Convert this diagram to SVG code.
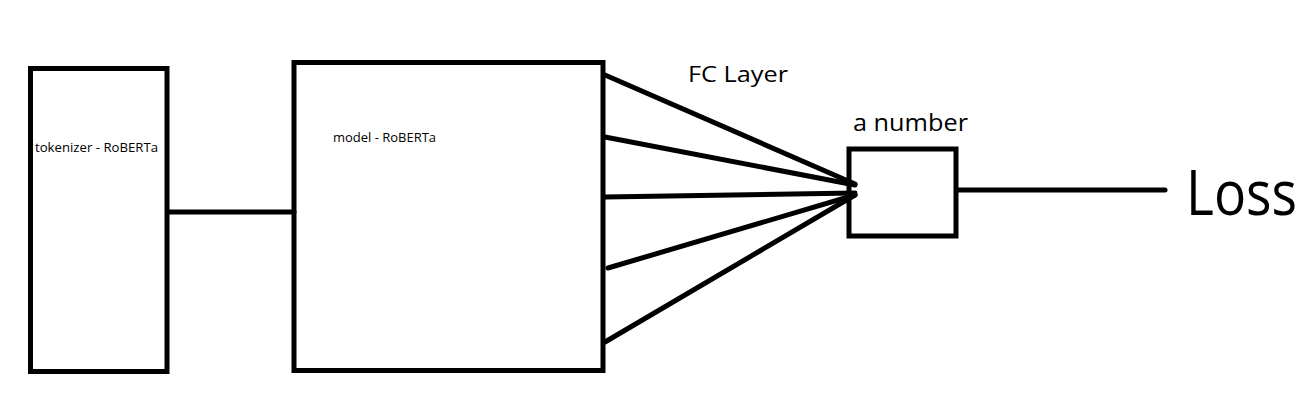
<svg xmlns="http://www.w3.org/2000/svg" width="1313" height="406" viewBox="0 0 1313 406">
<style>
.box{fill:none;stroke:#000;stroke-width:5}
.ln{stroke:#000;stroke-width:5;stroke-linecap:round;fill:none}
.t{font-family:"Open Sans","Noto Sans","Liberation Sans",sans-serif;fill:#000}
</style>
<rect width="1313" height="406" fill="#fff"/>
<g id="tokenizer">
<rect class="box" x="30.5" y="68.5" width="136.5" height="303"/>
<text class="t" x="35" y="152" font-size="12.5" textLength="123" lengthAdjust="spacingAndGlyphs">tokenizer - RoBERTa</text>
</g>
<g id="model">
<rect class="box" x="294" y="62.5" width="309" height="308"/>
<text class="t" x="333" y="142" font-size="12.5" textLength="103" lengthAdjust="spacingAndGlyphs">model - RoBERTa</text>
</g>
<g id="fc-label">
<text class="t" x="688" y="82" font-size="22" textLength="100" lengthAdjust="spacingAndGlyphs">FC Layer</text>
</g>
<g id="number">
<rect class="box" x="849" y="149" width="107" height="87"/>
<text class="t" x="853" y="131" font-size="23" textLength="115" lengthAdjust="spacingAndGlyphs">a number</text>
</g>
<g id="loss">
<text class="t" x="1186" y="215" font-size="62" textLength="111" lengthAdjust="spacingAndGlyphs">Loss</text>
</g>
<g id="connectors">
<line class="ln" x1="169" y1="212" x2="294" y2="212"/>
<line class="ln" x1="605" y1="75" x2="855" y2="184"/>
<line class="ln" x1="605" y1="137" x2="855" y2="185"/>
<line class="ln" x1="605" y1="197" x2="855" y2="193"/>
<line class="ln" x1="608" y1="268" x2="855" y2="195"/>
<line class="ln" x1="605" y1="342" x2="855" y2="195"/>
<line class="ln" x1="958" y1="190" x2="1165" y2="190"/>
</g>
</svg>
